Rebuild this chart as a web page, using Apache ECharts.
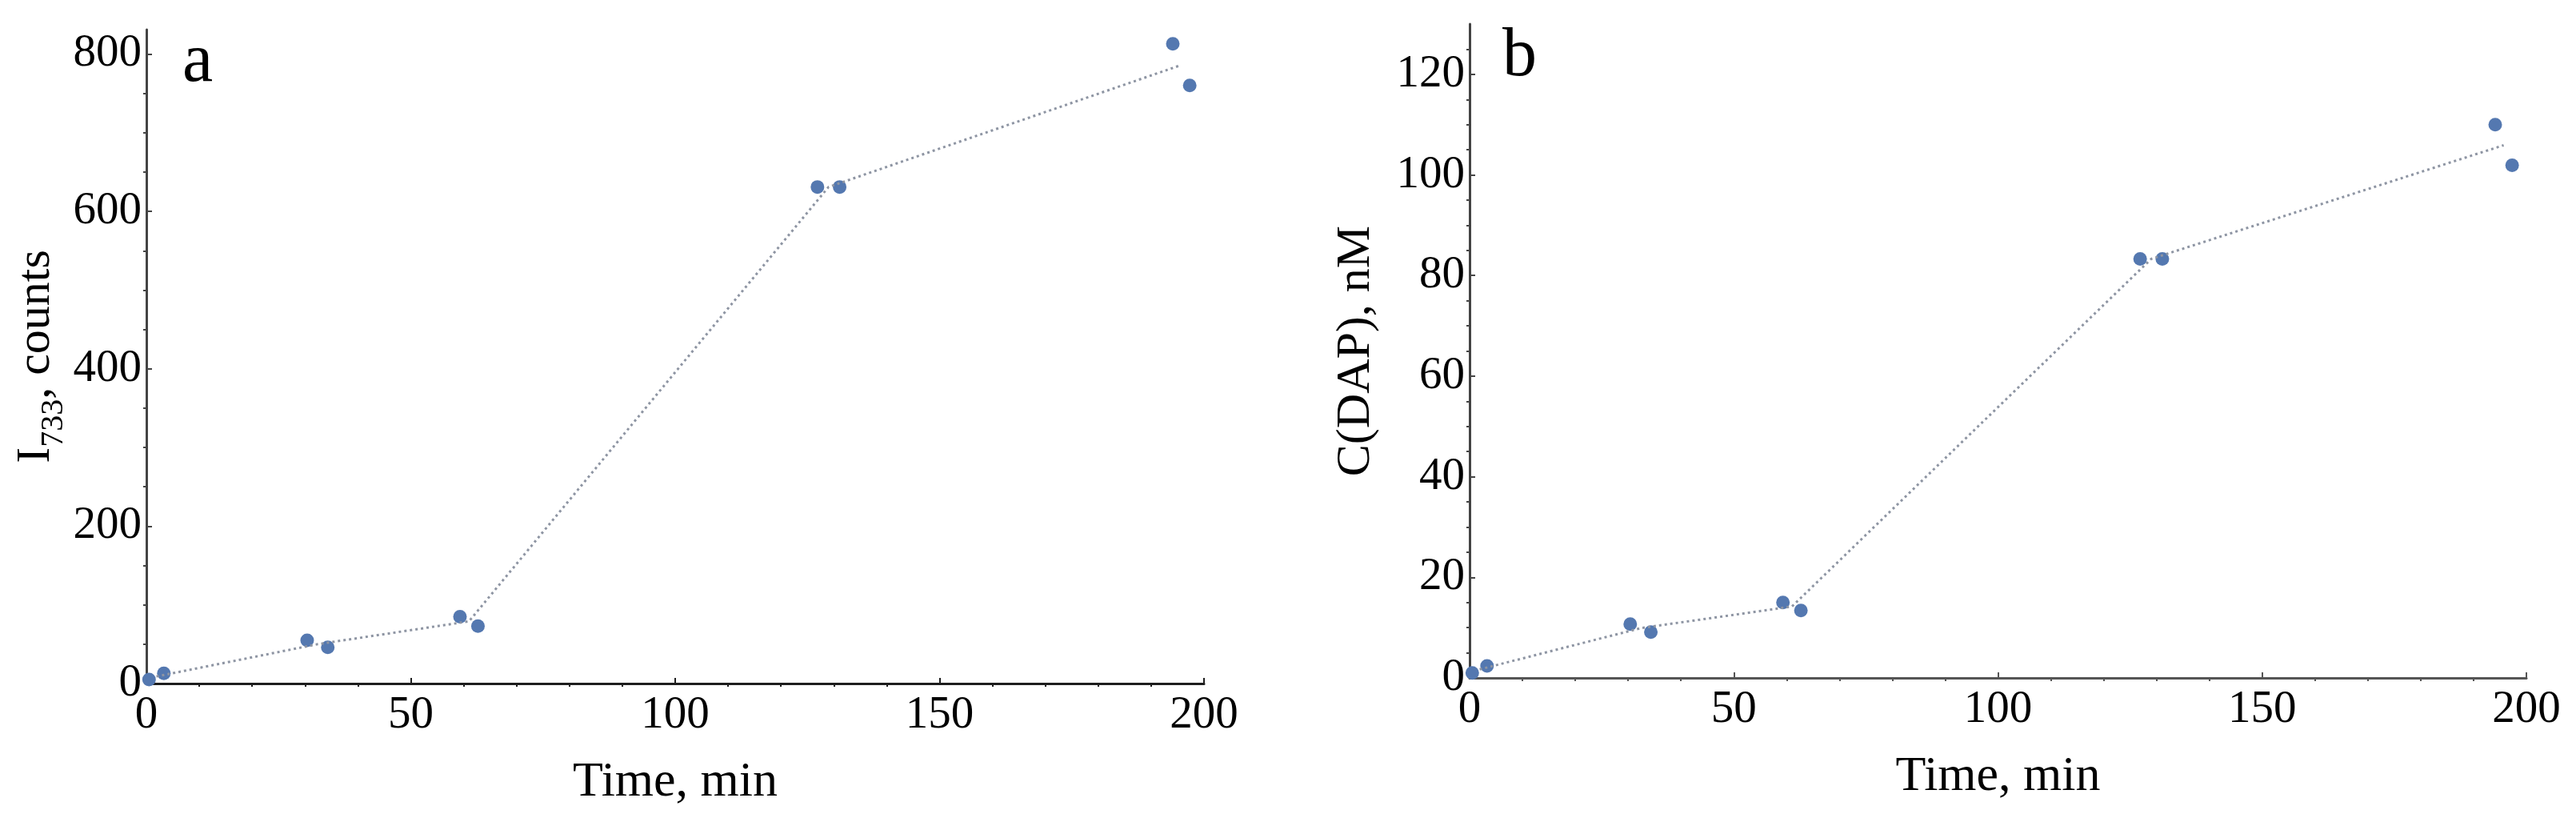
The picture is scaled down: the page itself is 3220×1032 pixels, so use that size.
<!DOCTYPE html>
<html>
<head>
<meta charset="utf-8">
<script src="https://cdn.jsdelivr.net/npm/echarts@6/dist/echarts.min.js"></script>
<style>
  html, body { margin: 0; padding: 0; background: #fff; }
  #chart { width: 3220px; height: 1032px; }
</style>
</head>
<body>
<div id="chart"></div>
<script>
// measured time points (min), two replicates per sampling
const times = [0.5, 3.3, 30.4, 34.3, 59.3, 62.7, 126.9, 131.1, 194.1, 197.3];
// panel a: I733 intensity, counts
const countsA = [5, 13, 55, 46, 85, 73, 631, 631, 813, 760];
// panel b: DAP concentration, nM
const concB = [1.0, 2.4, 10.7, 9.1, 15.0, 13.4, 83.3, 83.3, 110.0, 101.9];

// dotted guide line vertices
const lineTimes = [1.9, 32.4, 61.0, 129.0, 195.7];
const lineA = [9, 50, 79, 631, 786];
const lineB = [1.7, 9.9, 14.2, 83.3, 105.9];

// ticks
const xTicks = [0, 50, 100, 150, 200];
const xMinor = [10, 20, 30, 40, 60, 70, 80, 90, 110, 120, 130, 140, 160, 170, 180, 190];
const yTicksA = [0, 200, 400, 600, 800];
const yMinorA = [50, 100, 150, 250, 300, 350, 450, 500, 550, 650, 700, 750];
const yTicksB = [0, 20, 40, 60, 80, 100, 120];
const yMinorB = [5, 10, 15, 25, 30, 35, 45, 50, 55, 65, 70, 75, 85, 90, 95, 105, 110, 115, 125];

const FONT = "Liberation Serif";
const DOT = "#5478b0";
const GUIDE = "#8e95a3";

function pairs(xs, ys) {
  return xs.map((x, i) => [x, ys[i]]);
}

// main axis with labels + major ticks
function mainX(grid, color) {
  return {
    gridIndex: grid, type: "value", min: 0, max: 200,
    name: "Time, min", nameLocation: "middle", nameGap: 93,
    nameTextStyle: { fontFamily: FONT, fontSize: 62, color: "#000" },
    axisLine: { lineStyle: { color: color, width: 3 } },
    axisTick: { inside: true, length: 7, customValues: xTicks, lineStyle: { color: color, width: 2 } },
    axisLabel: { customValues: xTicks, margin: 12, fontFamily: FONT, fontSize: 57, color: "#000" },
    splitLine: { show: false }
  };
}
// extra axis just for the short minor ticks
function minorX(grid, color) {
  return {
    gridIndex: grid, type: "value", min: 0, max: 200,
    axisLine: { show: false },
    axisTick: { inside: true, length: 4, customValues: xMinor, lineStyle: { color: color, width: 2 } },
    axisLabel: { show: false },
    splitLine: { show: false }
  };
}
function mainY(grid, max, ticks, name, gap, rich, color) {
  return {
    gridIndex: grid, type: "value", min: 0, max: max,
    name: name, nameLocation: "middle", nameGap: gap,
    nameTextStyle: { fontFamily: FONT, fontSize: 60, color: "#000", rich: rich },
    axisLine: { show: true, lineStyle: { color: color, width: 3 } },
    axisTick: { show: true, inside: true, length: 7, customValues: ticks, lineStyle: { color: color, width: 2 } },
    axisLabel: { customValues: ticks, margin: 6, fontFamily: FONT, fontSize: 57, color: "#000" },
    splitLine: { show: false }
  };
}
function minorY(grid, max, ticks, color) {
  return {
    gridIndex: grid, type: "value", min: 0, max: max,
    axisLine: { show: false },
    axisTick: { show: true, inside: true, length: 4, customValues: ticks, lineStyle: { color: color, width: 2 } },
    axisLabel: { show: false },
    splitLine: { show: false }
  };
}

const richI = {
  i: { fontFamily: FONT, fontSize: 60, lineHeight: 72, verticalAlign: "top", color: "#000" },
  s: { fontFamily: FONT, fontSize: 40, lineHeight: 40, verticalAlign: "bottom", color: "#000" }
};

const chart = echarts.init(document.getElementById("chart"));
chart.setOption({
  backgroundColor: "#fff",
  animation: false,
  title: [
    { text: "a", left: 228, top: 35, padding: 0, textStyle: { fontFamily: FONT, fontSize: 86, fontWeight: "normal", color: "#000" } },
    { text: "b", left: 1878, top: 28, padding: 0, textStyle: { fontFamily: FONT, fontSize: 86, fontWeight: "normal", color: "#000" } }
  ],
  grid: [
    { left: 183, top: 37, width: 1322, height: 817 },
    { left: 1837, top: 30, width: 1321, height: 817 }
  ],
  xAxis: [
    mainX(0, "#1e1e1e"), minorX(0, "#1e1e1e"),
    mainX(1, "#555"), minorX(1, "#555")
  ],
  yAxis: [
    mainY(0, 831, yTicksA, "{i|I}{s|733}{i|, counts}", 95, richI, "#444"), minorY(0, 831, yMinorA, "#444"),
    mainY(1, 130, yTicksB, "C(DAP), nM", 112, null, "#444"), minorY(1, 130, yMinorB, "#444")
  ],
  series: [
    {
      type: "line", xAxisIndex: 0, yAxisIndex: 0, data: pairs(lineTimes, lineA),
      showSymbol: false, silent: true,
      lineStyle: { color: GUIDE, width: 3, type: [3, 4] }
    },
    {
      type: "scatter", xAxisIndex: 0, yAxisIndex: 0, data: pairs(times, countsA),
      symbolSize: 17, itemStyle: { color: DOT, opacity: 1 }
    },
    {
      type: "line", xAxisIndex: 2, yAxisIndex: 2, data: pairs(lineTimes, lineB),
      showSymbol: false, silent: true,
      lineStyle: { color: GUIDE, width: 3, type: [3, 4] }
    },
    {
      type: "scatter", xAxisIndex: 2, yAxisIndex: 2, data: pairs(times, concB),
      symbolSize: 17, itemStyle: { color: DOT, opacity: 1 }
    }
  ]
});
</script>
</body>
</html>
